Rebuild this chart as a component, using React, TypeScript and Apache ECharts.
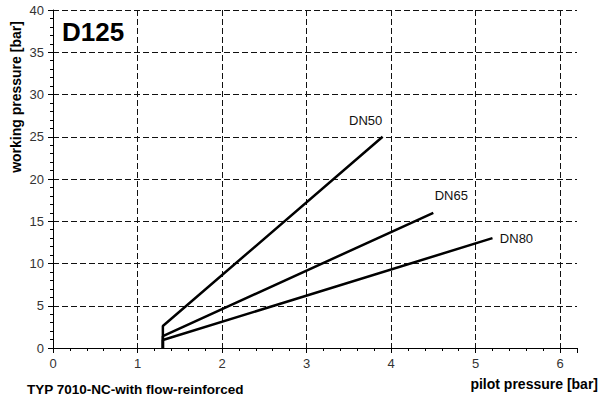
import React, { useEffect, useRef } from "react";
import * as echarts from "echarts";

const seriesNames = ["DN50", "DN65", "DN80"];
const startX = [1.3, 1.3, 1.3];
const startY = [2.6, 1.4, 0.95];
const endX = [3.9, 4.5, 5.2];
const endY = [25, 16, 13];
const xTicks = [0, 1, 2, 3, 4, 5, 6];
const yTicks = [0, 5, 10, 15, 20, 25, 30, 35, 40];

const labelOffsets: [number, number][] = [
  [-17, -16],
  [18, -17],
  [24, 0],
];

export default function App() {
  const ref = useRef<HTMLDivElement>(null);
  useEffect(() => {
    if (!ref.current) return;
    const chart = echarts.init(ref.current, undefined, { renderer: "svg" });
    const font = "Liberation Sans, Arial, sans-serif";
    const dashed = { type: [6, 3] as any, color: "#111", width: 1 };
    chart.setOption({
      animation: false,
      textStyle: { fontFamily: font },
      grid: { left: 53, top: 10, right: 25, bottom: 50, containLabel: false },
      xAxis: {
        type: "value",
        min: xTicks[0],
        max: 6.2,
        interval: 1,
        axisLine: { show: true, onZero: false, lineStyle: { color: "#000", width: 1 } },
        axisTick: { show: true, length: 5, lineStyle: { color: "#000" } },
        minorTick: { show: true, splitNumber: 5, length: 3, lineStyle: { color: "#000" } },
        splitLine: { show: true, showMinLine: false, showMaxLine: false, lineStyle: dashed },
        axisLabel: {
          color: "#333",
          fontSize: 13,
          margin: 9,
          showMaxLabel: false,
          formatter: (v: number) => (xTicks.includes(v) ? String(v) : ""),
        },
      },
      yAxis: {
        type: "value",
        min: yTicks[0],
        max: yTicks[yTicks.length - 1],
        interval: 5,
        axisLine: { show: true, lineStyle: { color: "#000", width: 1 } },
        axisTick: { show: true, length: 5, lineStyle: { color: "#000" } },
        minorTick: { show: true, splitNumber: 5, length: 3, lineStyle: { color: "#000" } },
        splitLine: { show: true, showMinLine: false, showMaxLine: true, lineStyle: dashed },
        axisLabel: { color: "#333", fontSize: 13, margin: 9 },
      },
      series: seriesNames.map((name, i) => ({
        type: "line",
        name,
        symbol: "circle",
        symbolSize: 0,
        showSymbol: true,
        itemStyle: { color: "#000" },
        lineStyle: { color: "#000", width: 2.5 },
        data: [
          [startX[i], 0],
          [startX[i], startY[i]],
          {
            value: [endX[i], endY[i]],
            label: {
              show: true,
              formatter: name,
              position: "inside",
              offset: labelOffsets[i],
              color: "#111",
              fontSize: 13,
              fontFamily: font,
            },
          },
        ],
      })),
      graphic: [
        {
          type: "text",
          left: 62,
          top: 19,
          style: { text: "D125", font: "bold 26px " + font, fill: "#000" },
        },
        {
          type: "text",
          x: 16,
          y: 97,
          rotation: Math.PI / 2,
          style: {
            text: "working pressure [bar]",
            font: "bold 14px " + font,
            fill: "#000",
            align: "center",
            verticalAlign: "middle",
          },
        },
        {
          type: "text",
          right: 4,
          top: 377,
          style: { text: "pilot pressure [bar]", font: "bold 14px " + font, fill: "#000" },
        },
        {
          type: "text",
          left: 27,
          top: 382,
          style: { text: "TYP 7010-NC-with flow-reinforced", font: "bold 13.5px " + font, fill: "#000" },
        },
      ],
    });
    return () => chart.dispose();
  }, []);
  return <div ref={ref} style={{ width: 602, height: 398, position: "absolute", left: 0, top: 0 }} />;
}
